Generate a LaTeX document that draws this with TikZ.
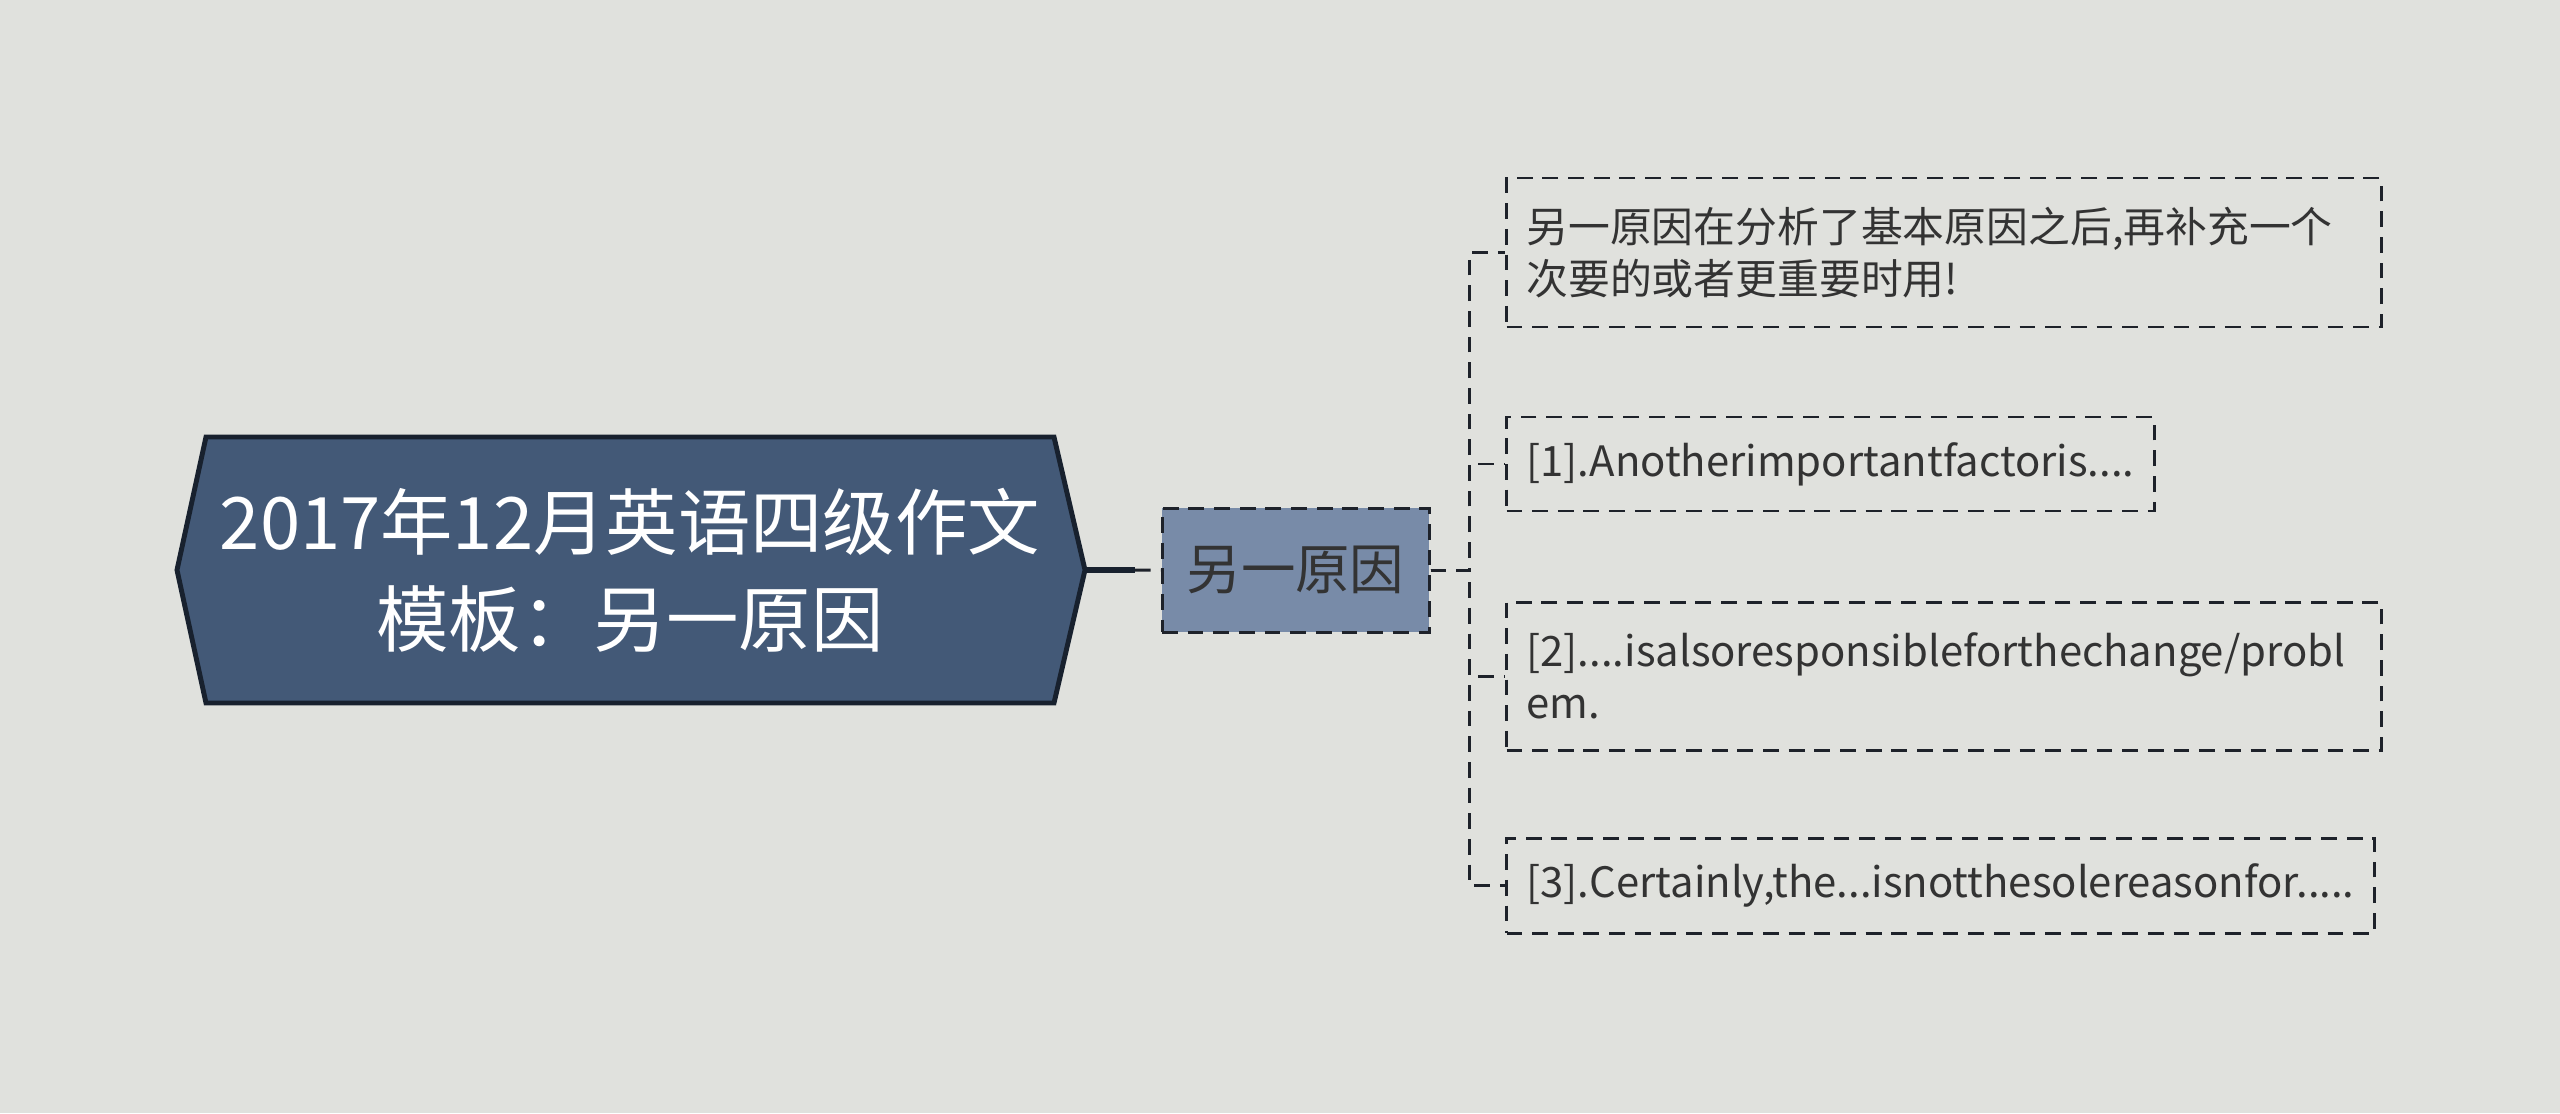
\documentclass[tikz,border=0pt]{standalone}
\usepackage{fontspec}
\setmainfont{Noto Sans CJK SC}
\usepackage{tikz}
\usetikzlibrary{positioning, calc}
\definecolor{paper}{RGB}{224,225,221}
\definecolor{rootfill}{RGB}{67,89,119}
\definecolor{rootedge}{RGB}{24,33,46}
\definecolor{subfill}{RGB}{120,139,168}
\definecolor{ink}{RGB}{30,34,42}
\definecolor{txt}{RGB}{51,51,51}
\tikzset{
  dashpat/.style={line width=.85pt, dash pattern=on 4.5pt off 2.8pt},
  rootshape/.style={draw=rootedge, fill=rootfill, line width=1.4pt, line join=miter},
  roottext/.style={inner sep=0pt, align=center, text=white,
    font=\fontsize{20.6pt}{27.6pt}\selectfont},
  rootlink/.style={draw=rootedge, line width=1.7pt},
  subbox/.style={draw=ink, fill=subfill, dashpat, minimum width=2.67cm,
    minimum height=1.24cm, inner sep=0pt, text=txt,
    font=\fontsize{15.5pt}{18pt}\selectfont},
  leafbox/.style={draw=ink, dashpat, anchor=west, inner xsep=0.2cm,
    inner ysep=0pt, align=left, text=txt,
    font=\fontsize{11.9pt}{14.8pt}\selectfont},
  link/.style={draw=ink, dashpat},
}

\begin{document}
\begin{tikzpicture}
\useasboundingbox (0,0) rectangle (25.6,11.13);
\fill[paper] (0,0) rectangle (25.6,11.13);
\def\ymid{5.43}
\def\xleaf{15.05}

% root: a flat hexagon, the text node sits on top of it
\draw[rootshape] (1.77,\ymid) -- (2.06,6.76) -- (10.54,6.76) -- (10.85,\ymid)
  -- (10.54,4.10) -- (2.06,4.10) -- cycle;
\node[roottext] (root) at (6.30,\ymid) {2017年12月英语四级作文\\模板：另一原因};
\coordinate (rootE) at (10.85,\ymid);

\node[subbox] (sub) at (12.955,\ymid) {另一原因};

% leaves, all hanging off one dashed spine
\node[leafbox, text width=8.35cm, minimum height=1.49cm] (l1) at (\xleaf,8.605)
  {另一原因在分析了基本原因之后,再补充一个\\次要的或者更重要时用!};
\node[leafbox, minimum height=0.94cm] (l2) at (\xleaf,6.49)
  {[1].Anotherimportantfactoris....};
\node[leafbox, text width=8.35cm, minimum height=1.48cm] (l3) at (\xleaf,4.37)
  {[2]....isalsoresponsibleforthechange/probl\\em.};
\node[leafbox, minimum height=0.95cm] (l4) at (\xleaf,2.275)
  {[3].Certainly,the...isnotthesolereasonfor.....};

% root to sub: solid most of the way, dashed at the box
\draw[rootlink] (rootE) -- ($(rootE)!0.66!(sub.west)$) coordinate (cut);
\draw[link] (cut) -- (sub.west);

\foreach \n in {l1,l2,l3,l4}
  \draw[link] (sub.east) -- ++(0.39,0) |- (\n.west);
\end{tikzpicture}
\end{document}
